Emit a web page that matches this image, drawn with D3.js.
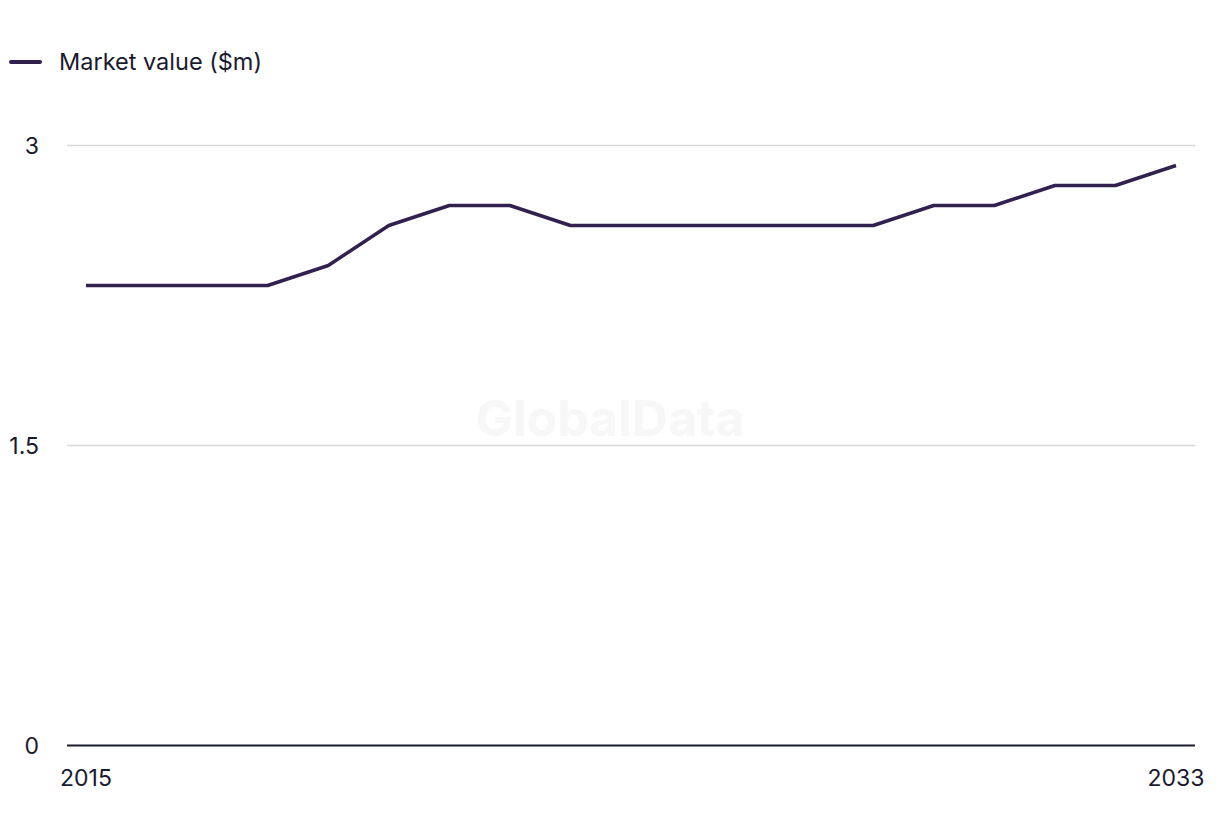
<!DOCTYPE html>
<html><head><meta charset="utf-8">
<script src="https://cdn.jsdelivr.net/npm/d3@7"></script>
<style>body{margin:0;background:#fff;font-family:Inter,"Open Sans",sans-serif}</style>
</head><body><svg id="c" width="1220" height="836"></svg>
<script>
const years = d3.range(2015, 2034);
const values = [2.3,2.3,2.3,2.3,2.4,2.6,2.7,2.7,2.6,2.6,2.6,2.6,2.6,2.6,2.7,2.7,2.8,2.8,2.9];
const yTicks = [0, 1.5, 3];
const xTickLabels = [2015, 2033];
const seriesName = "Market value ($m)";
const color = "#32214f";

const svg = d3.select("#c");
const x = d3.scaleLinear().domain([2015, 2033]).range([86, 1176]);
const y = d3.scaleLinear().domain([0, 3]).range([745.5, 145.5]);

svg.append("text").attr("x", 610).attr("y", 436).attr("text-anchor", "middle")
  .attr("font-size", 50).attr("font-weight", 700).attr("fill", "#f7f7f7").text("GlobalData");

svg.append("g").selectAll("line").data(yTicks.filter(d => d > 0)).join("line")
  .attr("x1", 67).attr("x2", 1195).attr("y1", d => y(d)).attr("y2", d => y(d))
  .attr("stroke", "#d9d9d9").attr("stroke-width", 1.5);
svg.append("line").attr("x1", 67).attr("x2", 1195).attr("y1", y(0)).attr("y2", y(0))
  .attr("stroke", "#1a1a2e").attr("stroke-width", 2);

svg.append("g").selectAll("text").data(yTicks).join("text")
  .attr("x", 39).attr("y", d => y(d) + 8).attr("text-anchor", "end")
  .attr("font-size", 23).attr("fill", "#1a1a2e").text(d => d);

svg.append("g").selectAll("text").data(xTickLabels).join("text")
  .attr("x", d => x(d)).attr("y", 786).attr("text-anchor", "middle")
  .attr("font-size", 23).attr("fill", "#1a1a2e").text(d => d);

const line = d3.line().x((d, i) => x(years[i])).y(d => y(d));
svg.append("path").datum(values).attr("d", line).attr("fill", "none")
  .attr("stroke", color).attr("stroke-width", 3.5).attr("stroke-linejoin", "round");

svg.append("line").attr("x1", 11).attr("x2", 40).attr("y1", 62).attr("y2", 62)
  .attr("stroke", color).attr("stroke-width", 4).attr("stroke-linecap", "round");
svg.append("text").attr("x", 59).attr("y", 70).attr("font-size", 23.5).attr("fill", "#1a1a2e").text(seriesName);
</script></body></html>
